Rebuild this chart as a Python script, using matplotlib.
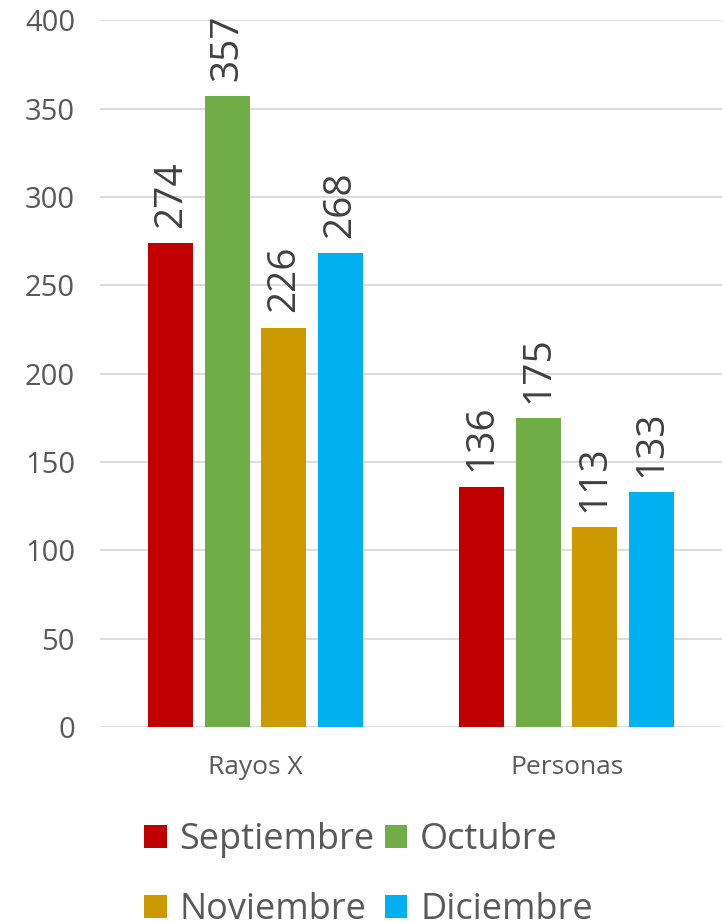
import matplotlib.pyplot as plt
import numpy as np

categories = ["Rayos X", "Personas"]
months = ["Septiembre", "Octubre", "Noviembre", "Diciembre"]
septiembre = [274, 136]
octubre = [357, 175]
noviembre = [226, 113]
diciembre = [268, 133]
colors = ["#C00000", "#70AD47", "#CC9900", "#00B0F0"]

series = [septiembre, octubre, noviembre, diciembre]

plt.rcParams["font.family"] = ["Open Sans", "DejaVu Sans"]
text_color = "#595959"

fig = plt.figure(figsize=(7.25, 9.22), dpi=100)
ax = fig.add_axes([0.138, 0.2115, 0.858, 0.7665])

x = np.arange(len(categories))
step = 0.182
width = 0.145

handles = []
for i, (vals, name, col) in enumerate(zip(series, months, colors)):
    pos = x + (i - 1.5) * step
    bars = ax.bar(pos, vals, width=width, color=col, label=name, zorder=3)
    handles.append(bars)
    for b, v in zip(bars, vals):
        ax.annotate(str(v), (b.get_x() + b.get_width() / 2, v),
                    xytext=(0, 11), textcoords="offset points",
                    rotation=90, ha="center", va="bottom",
                    fontsize=28, color="#404040")

ax.set_xlim(-0.5, 1.5)
ax.set_ylim(0, 400)
ax.set_yticks(np.arange(0, 401, 50))
ax.set_xticks(x)
ax.set_xticklabels(categories, fontsize=19, color=text_color)
ax.tick_params(axis="y", labelsize=21, colors=text_color, length=0, pad=18)
ax.tick_params(axis="x", length=0, pad=20)
ax.grid(axis="y", color="#D9D9D9", linewidth=1.3, zorder=0)
for s in ax.spines.values():
    s.set_visible(False)

# legend row-wise: Sept, Oct / Nov, Dic
order = [0, 2, 1, 3]
fig.legend([handles[k] for k in order], [months[k] for k in order],
           ncol=2, loc="upper left", bbox_to_anchor=(0.174, 0.128),
           frameon=False, fontsize=26, labelcolor=text_color,
           handlelength=0.62, handleheight=0.62, handletextpad=0.36,
           columnspacing=0.28, labelspacing=0.95, borderpad=0)

fig.savefig("out.png", dpi=100)
